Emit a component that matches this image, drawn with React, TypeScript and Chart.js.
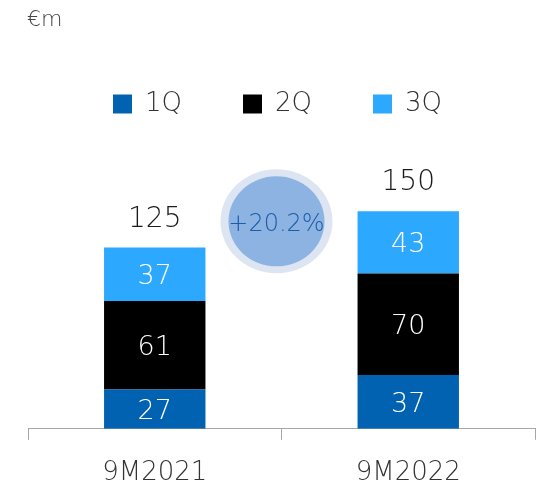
import React, { useEffect, useRef } from "react";
import { Chart, registerables } from "chart.js";

Chart.register(...registerables);

const categories = ["9M2021", "9M2022"];
const seriesNames = ["1Q", "2Q", "3Q"];
const q1 = [27, 37];
const q2 = [61, 70];
const q3 = [37, 43];
const totals = [125, 150];
const growthLabel = "+20.2%";
const growthAnchorValue = 143;
const unitLabel = "€m";

const colors = ["#0062b0", "#000000", "#2ca8ff"];
const FONT = "'DejaVu Sans ExtraLight', 'DejaVu Sans', 'Open Sans', sans-serif";
const W = "200";

const overlayPlugin = {
  id: "overlay",
  afterLayout(chart: any) {
    if (chart.legend) {
      chart.legend.left -= 4;
      chart.legend.right -= 4;
    }
  },
  afterDatasetsDraw(chart: any) {
    const ctx = chart.ctx;
    const xs = chart.scales.x;
    const ys = chart.scales.y;
    ctx.save();
    chart.data.datasets.forEach((ds: any, di: number) => {
      const meta = chart.getDatasetMeta(di);
      meta.data.forEach((bar: any, i: number) => {
        const v = ds.data[i];
        const cy = (bar.y + bar.base) / 2;
        ctx.font = `${W} 27px ${FONT}`;
        ctx.fillStyle = "#ffffff";
        ctx.textAlign = "center";
        ctx.textBaseline = "middle";
        ctx.fillText(String(v), bar.x, cy + 3);
      });
    });
    totals.forEach((t, i) => {
      const x = xs.getPixelForValue(i);
      const y = ys.getPixelForValue(t);
      ctx.font = `${W} 28px ${FONT}`;
      ctx.fillStyle = "#1a1a1a";
      ctx.textAlign = "center";
      ctx.textBaseline = "middle";
      ctx.fillText(String(t), x, y - 28);
    });
    const bx = (xs.getPixelForValue(0) + xs.getPixelForValue(1)) / 2 - 5;
    const by = ys.getPixelForValue(growthAnchorValue);
    ctx.fillStyle = "#dce5f1";
    ctx.beginPath();
    ctx.ellipse(bx, by, 56, 52, 0, 0, Math.PI * 2);
    ctx.fill();
    ctx.fillStyle = "#8db3e3";
    ctx.beginPath();
    ctx.ellipse(bx, by, 48, 45, 0, 0, Math.PI * 2);
    ctx.fill();
    ctx.font = `${W} 24px ${FONT}`;
    ctx.fillStyle = "#1b5ea8";
    ctx.textAlign = "center";
    ctx.textBaseline = "middle";
    ctx.fillText(growthLabel, bx, by + 3);
    ctx.font = `${W} 22px ${FONT}`;
    ctx.fillStyle = "#444444";
    ctx.textAlign = "left";
    ctx.textBaseline = "middle";
    ctx.fillText(unitLabel, 27, 20);
    ctx.restore();
  },
};

export default function App() {
  const ref = useRef<HTMLCanvasElement>(null);
  useEffect(() => {
    document.body.style.margin = "0";
    const chart = new Chart(ref.current!, {
      type: "bar",
      data: {
        labels: categories,
        datasets: [q1, q2, q3].map((d, i) => ({
          label: seriesNames[i],
          data: d,
          backgroundColor: colors[i],
          borderWidth: 0,
          categoryPercentage: 1,
          barPercentage: 0.4,
        })),
      },
      options: {
        responsive: false,
        animation: false,
        layout: { padding: { left: 28, right: 7, top: 30, bottom: -21 } },
        plugins: {
          tooltip: { enabled: false },
          legend: {
            position: "top",
            labels: {
              boxWidth: 19,
              boxHeight: 19,
              padding: 61,
              color: "#333333",
              font: { family: FONT, size: 26, weight: W as any },
            },
          },
        },
        scales: {
          x: {
            stacked: true,
            grid: {
              display: true,
              drawOnChartArea: false,
              drawTicks: true,
              tickLength: 11,
              color: "#a6a6a6",
            },
            border: { display: true, color: "#a6a6a6" },
            ticks: {
              color: "#333333",
              padding: 18,
              font: { family: FONT, size: 26, weight: W as any, lineHeight: 1.2 },
            },
          },
          y: {
            stacked: true,
            display: false,
            min: 0,
            max: 208,
          },
        },
      },
      plugins: [overlayPlugin],
    });
    return () => chart.destroy();
  }, []);
  return <canvas ref={ref} width={542} height={486} />;
}
